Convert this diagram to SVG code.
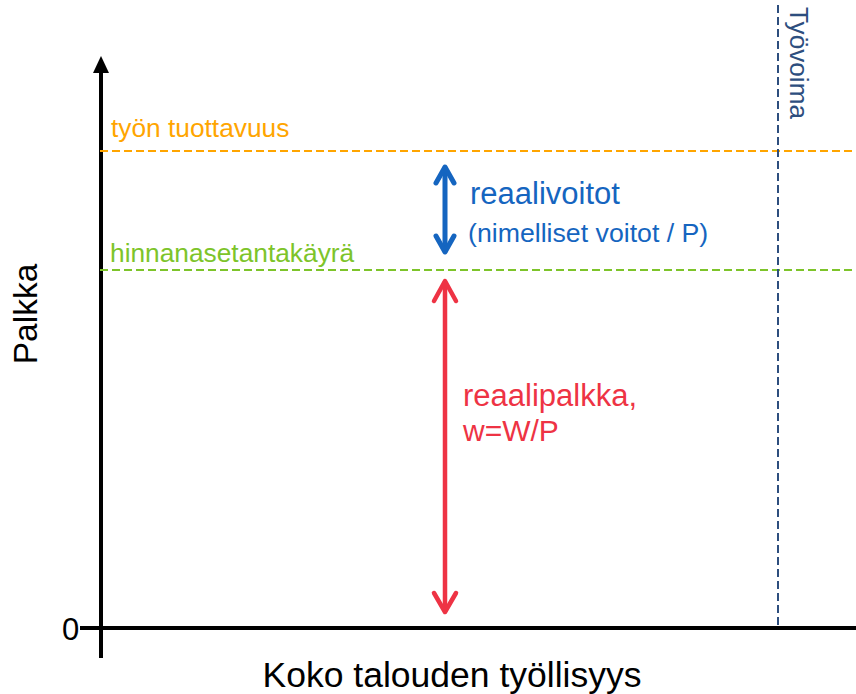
<svg xmlns="http://www.w3.org/2000/svg" width="856" height="694" viewBox="0 0 856 694">
<style>
text{font-family:"Liberation Sans",Arial,sans-serif}
.ax{stroke:#000;stroke-width:4;fill:none}
.dash{fill:none;stroke-width:2;stroke-dasharray:8 4}
.arr{fill:none;stroke-linecap:round;stroke-linejoin:round}
</style>
<rect width="856" height="694" fill="#fff"/>
<g id="axes">
<line class="ax" x1="101" y1="68" x2="101" y2="658"/>
<polygon points="101,56 93,73 109,73" fill="#000"/>
<line class="ax" x1="80" y1="628" x2="856" y2="628"/>
<text x="62" y="640" font-size="31">0</text>
<text transform="translate(37,314) rotate(-90)" font-size="33.5" text-anchor="middle">Palkka</text>
<text x="452" y="687" font-size="35.5" text-anchor="middle">Koko talouden työllisyys</text>
</g>
<g id="productivity">
<line class="dash" x1="100" y1="151" x2="856" y2="151" stroke="#FFA500"/>
<text x="111" y="137" font-size="26.3" fill="#FFA500">työn tuottavuus</text>
</g>
<g id="pricesetting">
<line class="dash" x1="100" y1="270" x2="856" y2="270" stroke="#7DC42A"/>
<text x="110" y="262" font-size="26.3" fill="#7DC42A">hinnanasetantakäyrä</text>
</g>
<g id="labour">
<line class="dash" x1="778" y1="5" x2="778" y2="628" stroke="#2D4E7E"/>
<text transform="translate(790,7) rotate(90)" font-size="26.2" fill="#2D4E7E">Työvoima</text>
</g>
<g id="connectors">
<g id="profit-arrow" stroke="#1565C0" stroke-width="5" class="arr">
<line x1="445" y1="168" x2="445" y2="251"/>
<polyline points="436,183 445,167 454,183"/>
<polyline points="436,236 445,252 454,236"/>
</g>
<g id="wage-arrow" stroke="#EE3344" stroke-width="4.5" class="arr">
<line x1="445" y1="282" x2="445" y2="611"/>
<polyline points="434,301 445,281 456,301"/>
<polyline points="434,593 445,612 456,593"/>
</g>
</g>
<g id="profit-label" fill="#1565C0">
<text x="470" y="204" font-size="31">reaalivoitot</text>
<text x="468" y="242" font-size="26.7">(nimelliset voitot / P)</text>
</g>
<g id="wage-label" fill="#EE3344">
<text x="463" y="406" font-size="31">reaalipalkka,</text>
<text x="463" y="441" font-size="30">w=W/P</text>
</g>
</svg>
